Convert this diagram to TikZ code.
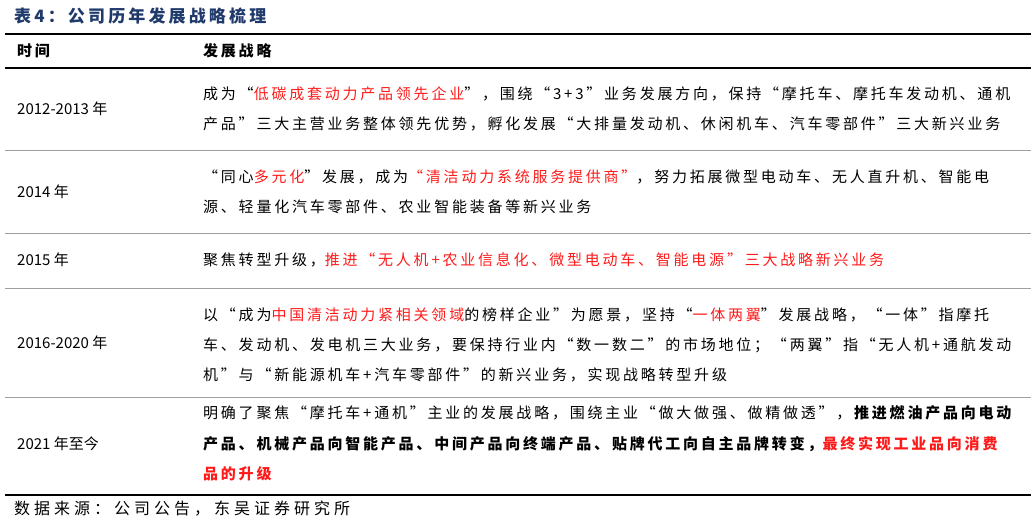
\documentclass[tikz,border=0pt]{standalone}
\usepackage{fontspec}
\setmainfont{Noto Sans CJK SC}[LetterSpace=18.5]
\newfontfamily\yearfont{Noto Sans CJK SC}
\newfontfamily\srcfont{Noto Sans CJK SC}[LetterSpace=25]
\definecolor{ttl}{HTML}{1F3A6B}
\definecolor{rd}{HTML}{FF1A1A}
\definecolor{sep}{HTML}{A0A0A0}
\begin{document}
\begin{tikzpicture}[x=1pt,y=-1pt,
  txt/.style={anchor=west,inner sep=0pt,font=\fontsize{15}{18}\selectfont},
  yr/.style={anchor=west,inner sep=0pt,font=\yearfont\fontsize{15}{18}\selectfont},
  thick rule/.style={line width=1.8pt,black},
  thin rule/.style={line width=0.6pt,sep}]
\useasboundingbox (0,0) rectangle (1031,523);
\node[anchor=west,inner sep=0pt,font=\bfseries\fontsize{17}{20}\selectfont,text=ttl] (title) at (14,16) {表4：公司历年发展战略梳理};
\draw[thick rule] (5,34) -- (1031,34);
\node[txt,font=\bfseries\fontsize{15}{18}\selectfont] (h1) at (17,51) {时间};
\node[txt,font=\bfseries\fontsize{15}{18}\selectfont] (h2) at (203,51) {发展战略};
\draw[line width=1.2pt] (5,68) -- (1031,68);
% row 1
\node[yr] (y1) at (17,109) {2012-2013 年};
\node[txt] (r1a) at (203,94) {成为“\textcolor{rd}{低碳成套动力产品领先企业}”，围绕“3+3”业务发展方向，保持“摩托车、摩托车发动机、通机};
\node[txt] (r1b) at (203,124) {产品”三大主营业务整体领先优势，孵化发展“大排量发动机、休闲机车、汽车零部件”三大新兴业务};
\draw[thin rule] (5,150) -- (1031,150);
% row 2
\node[yr] (y2) at (17,192) {2014 年};
\node[txt] (r2a) at (203,177) {“同心\textcolor{rd}{多元化}”发展，成为\textcolor{rd}{“清洁动力系统服务提供商”}，努力拓展微型电动车、无人直升机、智能电};
\node[txt] (r2b) at (203,207) {源、轻量化汽车零部件、农业智能装备等新兴业务};
\draw[thin rule] (5,233) -- (1031,233);
% row 3
\node[yr] (y3) at (17,260) {2015 年};
\node[txt] (r3a) at (203,260) {聚焦转型升级，\textcolor{rd}{推进“无人机+农业信息化、微型电动车、智能电源”三大战略新兴业务}};
\draw[thin rule] (5,288) -- (1031,288);
% row 4
\node[yr] (y4) at (17,343) {2016-2020 年};
\node[txt] (r4a) at (203,315) {以“成为\textcolor{rd}{中国清洁动力紧相关领域}的榜样企业”为愿景，坚持“\textcolor{rd}{一体两翼}”发展战略，“一体”指摩托};
\node[txt] (r4b) at (203,345) {车、发动机、发电机三大业务，要保持行业内“数一数二”的市场地位；“两翼”指“无人机+通航发动};
\node[txt] (r4c) at (203,375) {机”与“新能源机车+汽车零部件”的新兴业务，实现战略转型升级};
\draw[thin rule] (5,397) -- (1031,397);
% row 5
\node[yr] (y5) at (17,444) {2021 年至今};
\node[txt] (r5a) at (203,413) {明确了聚焦“摩托车+通机”主业的发展战略，围绕主业“做大做强、做精做透”，\textbf{推进燃油产品向电动}};
\node[txt] (r5b) at (203,444) {\textbf{产品、机械产品向智能产品、中间产品向终端产品、贴牌代工向自主品牌转变，\textcolor{rd}{最终实现工业品向消费}}};
\node[txt] (r5c) at (203,474) {\textbf{\textcolor{rd}{品的升级}}};
\draw[thick rule] (5,495) -- (1031,495);
\node[anchor=west,inner sep=0pt,font=\srcfont\fontsize{16}{18}\selectfont] (src) at (14,509) {数据来源：公司公告，东吴证券研究所};
\end{tikzpicture}
\end{document}
